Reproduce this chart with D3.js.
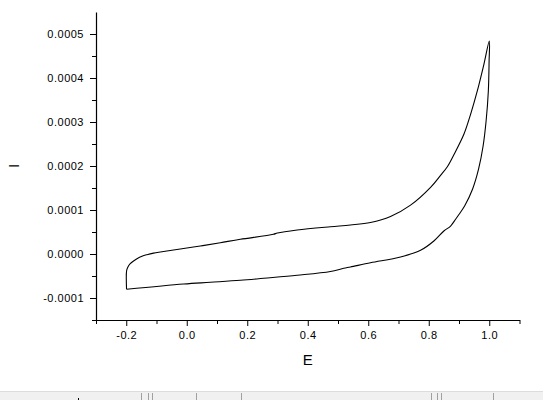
<!DOCTYPE html>
<html>
<head>
<meta charset="utf-8">
<script src="https://cdn.jsdelivr.net/npm/d3@7"></script>
<style>
  html, body { margin: 0; padding: 0; background: #fff; }
  svg { display: block; }
  text { font-family: Arial, "Liberation Sans", sans-serif; fill: #000; }
</style>
</head>
<body>
<svg id="chart" width="543" height="400"></svg>
<script>
// ---- data ----
// forward (anodic) sweep, E in V, I in A
const forwardE = [-0.199, -0.199, -0.1957, -0.1868, -0.1758, -0.1646, -0.148, -0.1315, -0.1097, -0.0875, -0.0544, -0.0213, 0.0449, 0.111, 0.1772, 0.2864, 0.2997, 0.3649, 0.475, 0.5412, 0.6074, 0.6736, 0.7398, 0.806, 0.839, 0.862, 0.883, 0.9161, 0.9383, 0.9605, 0.9823, 1.0002];
const forwardI = [-0.0000802, -0.0000386, -0.0000311, -0.0000220, -0.0000159, -0.0000107, -0.0000050, -0.0000015, 0.0000020, 0.0000045, 0.0000078, 0.0000114, 0.0000182, 0.0000257, 0.0000334, 0.0000448, 0.0000477, 0.0000545, 0.0000620, 0.0000659, 0.0000716, 0.0000852, 0.000111, 0.0001515, 0.0001788, 0.0001990, 0.0002255, 0.000272, 0.0003175, 0.0003705, 0.0004311, 0.0004841];
// reverse (cathodic) sweep
const reverseE = [0.9995, 0.997, 0.9896, 0.9797, 0.9648, 0.945, 0.9185, 0.8986, 0.8887, 0.8722, 0.85, 0.8169, 0.7729, 0.7067, 0.6074, 0.5412, 0.519, 0.475, 0.3649, 0.2543, 0.1772, 0.078, -0.0104, -0.199];
const reverseI = [0.0004386, 0.0003705, 0.0003023, 0.0002455, 0.0001932, 0.0001477, 0.0001091, 0.0000886, 0.0000789, 0.0000636, 0.0000523, 0.0000295, 0.0000084, -0.0000068, -0.0000198, -0.0000295, -0.0000325, -0.0000398, -0.0000484, -0.0000552, -0.0000598, -0.0000643, -0.0000682, -0.0000802];

const xTicks = [-0.2, 0.0, 0.2, 0.4, 0.6, 0.8, 1.0];
const xMinorTicks = [-0.3, -0.1, 0.1, 0.3, 0.5, 0.7, 0.9, 1.1];
const yTicks = [-0.0001, 0.0, 0.0001, 0.0002, 0.0003, 0.0004, 0.0005];
const yMinorTicks = [-0.00015, -0.00005, 0.00005, 0.00015, 0.00025, 0.00035, 0.00045];
const xLabel = "E";
const yLabel = "I";

// ---- layout ----
const svg = d3.select("#chart");
const x = d3.scaleLinear().domain([-0.3, 1.1]).range([96, 519.5]);
const y = d3.scaleLinear().domain([-0.00015, 0.00055]).range([320, 12]);
const hyphen = f => (d => f(d).replace("\u2212", "-"));

const axisG = svg.append("g");

// x axis
const xAxis = axisG.append("g").attr("transform", "translate(0,320)");
xAxis.call(d3.axisBottom(x).tickValues(xTicks).tickFormat(hyphen(d3.format(".1f"))).tickSizeInner(6).tickSizeOuter(0).tickPadding(5));
const xMinor = axisG.append("g").attr("transform", "translate(0,320)");
xMinor.call(d3.axisBottom(x).tickValues(xMinorTicks).tickFormat("").tickSizeInner(4).tickSizeOuter(0));
xMinor.select(".domain").remove();

// y axis
const yAxis = axisG.append("g").attr("transform", "translate(96,0)");
yAxis.call(d3.axisLeft(y).tickValues(yTicks).tickFormat(hyphen(d3.format(".4f"))).tickSizeInner(6).tickSizeOuter(0).tickPadding(6));
const yMinor = axisG.append("g").attr("transform", "translate(96,0)");
yMinor.call(d3.axisLeft(y).tickValues(yMinorTicks).tickFormat("").tickSizeInner(4).tickSizeOuter(0));
yMinor.select(".domain").remove();

axisG.selectAll(".domain").attr("stroke", "#000").attr("stroke-width", 1.2);
axisG.selectAll(".tick line").attr("stroke", "#000").attr("stroke-width", 1);
axisG.selectAll(".tick text")
  .style("font-family", "Arial, 'Liberation Sans', sans-serif")
  .style("font-size", "11px").style("letter-spacing", "0.5px").attr("fill", "#000");

// axis titles
svg.append("text").attr("x", x(0.4)).attr("y", 365).attr("text-anchor", "middle")
  .style("font-size", "15px").text(xLabel);
svg.append("text").attr("transform", "translate(19," + y(0.0002) + ") rotate(-90)")
  .attr("text-anchor", "middle").style("font-size", "15px").text(yLabel);

// curve
const pts = forwardE.map((e, i) => [e, forwardI[i]])
  .concat(reverseE.map((e, i) => [e, reverseI[i]]));
const lineGen = d3.line().x(d => x(d[0])).y(d => y(d[1])).curve(d3.curveCatmullRom.alpha(0.5));
svg.append("path").datum(pts).attr("d", lineGen)
  .attr("fill", "none").attr("stroke", "#000").attr("stroke-width", 1.1);

// window status strip at the bottom
svg.append("rect").attr("x", 0).attr("y", 391).attr("width", 543).attr("height", 9).attr("fill", "#f0f0f0");
svg.append("line").attr("x1", 0).attr("x2", 543).attr("y1", 391.5).attr("y2", 391.5).attr("stroke", "#dcdcdc");
const marks = [141, 148, 152, 196, 241, 431, 437, 441, 493];
svg.selectAll("line.mark").data(marks).enter().append("line").attr("class", "mark")
  .attr("x1", d => d + 0.5).attr("x2", d => d + 0.5).attr("y1", 393).attr("y2", 400)
  .attr("stroke", "#a0a0a0");
svg.append("rect").attr("x", 78).attr("y", 398).attr("width", 1).attr("height", 2).attr("fill", "#000");
</script>
</body>
</html>
